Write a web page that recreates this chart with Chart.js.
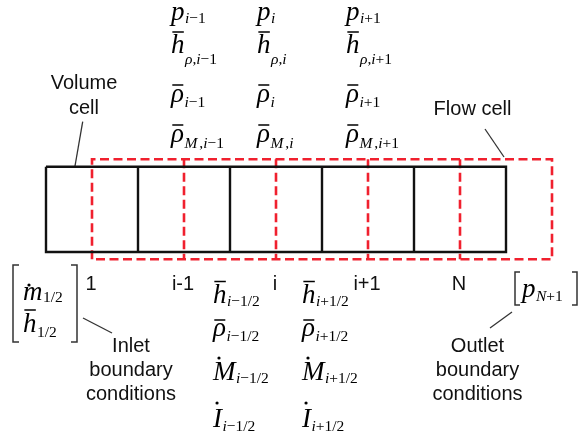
<!DOCTYPE html>
<html>
<head>
<meta charset="utf-8">
<script src="https://cdn.jsdelivr.net/npm/chart.js@4/dist/chart.umd.min.js"></script>
<style>
	html, body { margin: 0; padding: 0; background: #fff; }
	#wrap { width: 580px; height: 444px; }
</style>
</head>
<body>
<div id="wrap"><canvas id="diagram" width="580" height="444"></canvas></div>
<script>
// Volume cells (solid) and staggered flow cells (dashed), in sheet units.
const cellEdges = [46, 138, 230, 322, 414, 506];
const flowEdges = [92, 184, 276, 368, 460, 552];
const cellLabels = ['1', 'i-1', 'i', 'i+1', 'N'];

// Node variables above the cells, face variables below them.
const nodeIndices = ['i−1', 'i', 'i+1'];
const faceIndices = ['i−1/2', 'i+1/2'];
const nodeSymbols = [['p', '', '#'], ['h', 'bar', 'ρ,#'], ['ρ', 'bar', '#'], ['ρ', 'bar', 'M,#']];
const faceSymbols = [['h', 'bar', '#'], ['ρ', 'bar', '#'], ['M', 'dot', '#'], ['I', 'dot', '#']];

// Boundary conditions.
const inletSymbols = [['m', 'dot', '1/2'], ['h', 'bar', '1/2']];
const outletSymbols = [['p', '', 'N+1']];
const inletText = ['Inlet', 'boundary', 'conditions'];
const outletText = ['Outlet', 'boundary', 'conditions'];

const CELL_TOP = 166.7, CELL_BOTTOM = 252;
const FLOW_TOP = 159.3, FLOW_BOTTOM = 259.3;

const SANS = '20px "Liberation Sans", Arial, sans-serif';
const MATH = '"Liberation Serif", "Times New Roman", serif';

function segment( points, color, width, dash ) {
	return {
		data: points.map( p => ( { x: p[0], y: p[1] } ) ),
		showLine: true,
		borderColor: color,
		borderWidth: width,
		borderDash: dash || [],
		pointRadius: 0,
		tension: 0,
		fill: false,
		borderCapStyle: 'butt',
		borderJoinStyle: 'miter'
	};
}

const datasets = [];

// Volume cells.
const first = cellEdges[0], last = cellEdges[cellEdges.length - 1];
datasets.push( segment( [[first, CELL_TOP], [last, CELL_TOP], [last, CELL_BOTTOM], [first, CELL_BOTTOM], [first, CELL_TOP]], '#111', 2.4 ) );
cellEdges.slice( 1, -1 ).forEach( e => datasets.push( segment( [[e, CELL_TOP], [e, CELL_BOTTOM]], '#111', 2.4 ) ) );

// Flow cells.
const fFirst = flowEdges[0], fLast = flowEdges[flowEdges.length - 1];
const RED = '#f0202e', DASH = [9, 4.5];
datasets.push( segment( [[fFirst, FLOW_BOTTOM], [fFirst, FLOW_TOP], [fLast, FLOW_TOP], [fLast, FLOW_BOTTOM], [fFirst, FLOW_BOTTOM]], RED, 2.6, DASH ) );
flowEdges.slice( 1, -1 ).forEach( e => datasets.push( segment( [[e, FLOW_TOP], [e, FLOW_BOTTOM]], RED, 2.6, DASH ) ) );

// Leader lines.
const leaders = [
	[[82.7, 121.7], [75, 166]],
	[[485, 129], [504, 157]],
	[[83, 318], [112, 333]],
	[[512, 312], [490, 328]]
];
leaders.forEach( l => datasets.push( segment( l, '#333', 1.3 ) ) );

// Brackets round the boundary values.
const brackets = [
	[[19, 265], [13, 265], [13, 342], [19, 342]],
	[[71, 265], [77, 265], [77, 342], [71, 342]],
	[[520, 272], [515, 272], [515, 305], [520, 305]],
	[[572, 272], [577, 272], [577, 305], [572, 305]]
];
brackets.forEach( b => datasets.push( segment( b, '#333', 1.5 ) ) );

// Draw one math term: italic base, optional bar / dot, subscript.
function drawTerm( ctx, x, y, sym, idx, subDrop, accentUp ) {
	const base = sym[0], accent = sym[1];
	const sub = sym[2].replace( '#', idx );
	ctx.fillStyle = '#000';
	ctx.strokeStyle = '#000';
	ctx.textBaseline = 'alphabetic';
	ctx.textAlign = 'left';
	ctx.font = 'italic 27px ' + MATH;
	ctx.fillText( base, x, y );
	const w = ctx.measureText( base ).width;
	if ( accent === 'bar' ) {
		ctx.lineWidth = 1.5;
		ctx.beginPath();
		ctx.moveTo( x + w * 0.1, y - accentUp );
		ctx.lineTo( x + w * 0.95, y - accentUp );
		ctx.stroke();
	} else if ( accent === 'dot' ) {
		ctx.beginPath();
		ctx.arc( x + Math.min( w * 0.45, 6 ), y - accentUp, 1.6, 0, Math.PI * 2 );
		ctx.fill();
	}
	let sx = x + w + 0.5;
	for ( const ch of sub ) {
		const italic = /[A-Za-zρ]/.test( ch );
		ctx.font = ( italic ? 'italic ' : '' ) + '15.5px ' + MATH;
		ctx.fillText( ch, sx, y + subDrop );
		sx += ctx.measureText( ch ).width + ( ch === 'M' ? 2 : 0 );
	}
}

const diagramText = {
	id: 'diagramText',
	afterDatasetsDraw( chart ) {
		const { ctx, scales: { x, y } } = chart;
		const px = v => x.getPixelForValue( v );
		const py = v => y.getPixelForValue( v );
		ctx.save();

		// Sans labels.
		ctx.font = SANS;
		ctx.fillStyle = '#111';
		ctx.textAlign = 'center';
		ctx.textBaseline = 'alphabetic';
		ctx.fillText( 'Volume', px( 84 ), py( 89 ) );
		ctx.fillText( 'cell', px( 84 ), py( 114 ) );
		ctx.fillText( 'Flow cell', px( 472.5 ), py( 115 ) );
		cellLabels.forEach( ( t, k ) => {
			const c = ( cellEdges[k] + cellEdges[k + 1] ) / 2;
			ctx.fillText( t, px( c - 1 ), py( 290 ) );
		} );
		inletText.forEach( ( t, k ) => ctx.fillText( t, px( 131 ), py( 352 + k * 24 ) ) );
		outletText.forEach( ( t, k ) => ctx.fillText( t, px( 477.5 ), py( 352 + k * 24 ) ) );

		// Node variables.
		const nodeX = [171, 257, 346];
		const nodeY = [19.5, 53, 102, 142];
		const nodeDrop = [3.5, 11, 5, 6];
		const nodeUp = [0, 21, 17, 17];
		nodeIndices.forEach( ( idx, c ) => {
			nodeSymbols.forEach( ( s, r ) => drawTerm( ctx, px( nodeX[c] ), py( nodeY[r] ), s, idx, nodeDrop[r], nodeUp[r] ) );
		} );

		// Face variables.
		const faceX = [213, 302];
		const faceY = [303, 336, 380, 426.5];
		const faceDrop = [3, 5, 3, 4];
		const faceUp = [21.5, 16, 22, 23.5];
		faceIndices.forEach( ( idx, c ) => {
			faceSymbols.forEach( ( s, r ) => drawTerm( ctx, px( faceX[c] ), py( faceY[r] ), s, idx, faceDrop[r], faceUp[r] ) );
		} );

		// Boundary values.
		drawTerm( ctx, px( 23 ), py( 300 ), inletSymbols[0], '', 2, 15 );
		drawTerm( ctx, px( 23 ), py( 332 ), inletSymbols[1], '', 5, 22 );
		drawTerm( ctx, px( 522 ), py( 297 ), outletSymbols[0], '', 4, 0 );

		ctx.restore();
	}
};

new Chart( document.getElementById( 'diagram' ), {
	type: 'scatter',
	data: { datasets: datasets },
	options: {
		responsive: false,
		animation: false,
		layout: { padding: 0 },
		scales: {
			x: { type: 'linear', min: 0, max: 580, display: false },
			y: { type: 'linear', min: 0, max: 444, reverse: true, display: false }
		},
		plugins: {
			legend: { display: false },
			tooltip: { enabled: false }
		}
	},
	plugins: [diagramText]
} );
</script>
</body>
</html>
